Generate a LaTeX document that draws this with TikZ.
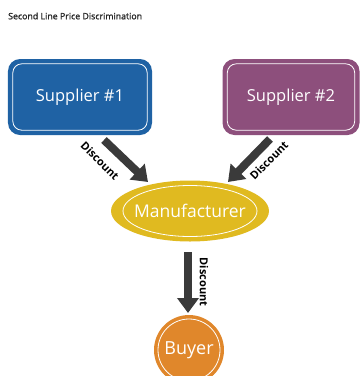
\documentclass[tikz,border=0pt]{standalone}
\usepackage{fontspec}
\setmainfont{Open Sans}
\newfontfamily\titlefont{Open Sans}[FakeBold=1.2]
\usetikzlibrary{arrows.meta,shapes.geometric,calc}
\definecolor{supblue}{HTML}{1F62A4}
\definecolor{suppurple}{HTML}{8D4F7C}
\definecolor{mangold}{HTML}{E0BA20}
\definecolor{buyorange}{HTML}{E0872B}
\definecolor{arrgray}{HTML}{3A3A3A}
\tikzset{
  supbox/.style={rounded corners=12pt, minimum width=144pt, minimum height=76pt, inner sep=0pt, text=white, font=\fontsize{16.5}{18}\selectfont},
  innerline/.style={draw=white, line width=0.8pt},
  bigarrow/.style={draw=arrgray, line width=8pt, -{Triangle[width=21pt,length=15pt]}},
  disc/.style={font=\bfseries\fontsize{11}{13}\selectfont, text=black, inner sep=0pt}
}
\begin{document}
\begin{tikzpicture}[x=1pt,y=-1pt]
\useasboundingbox[fill=white] (0,0) rectangle (360,376);
\node[anchor=west, inner sep=0pt, font=\titlefont\fontsize{8.8}{11}\selectfont, text=black!85] (title) at (8,16) {Second Line Price Discrimination};
% suppliers
\node[supbox, fill=supblue] (s1) at (80,97) {Supplier \#1};
\draw[innerline, rounded corners=9pt] ($(s1.north west)+(5,5)$) rectangle ($(s1.south east)+(-5,-5)$);
\node[supbox, fill=suppurple, minimum width=137pt] (s2) at (291,97) {Supplier \#2};
\draw[innerline, rounded corners=9pt] ($(s2.north west)+(5,5)$) rectangle ($(s2.south east)+(-5,-5)$);
% manufacturer
\node[ellipse, fill=mangold, minimum width=144pt, minimum height=61pt, inner sep=0pt, text=white, font=\fontsize{17.5}{20}\selectfont] (m) at (190,211) {Manufacturer};
\draw[innerline] (m.center) ellipse [x radius=67, y radius=25.5];
% buyer
\node[circle, fill=buyorange, minimum size=70pt, inner sep=0pt, text=white, font=\fontsize{18}{20}\selectfont] (b) at (189,350) {Buyer};
\draw[innerline] (b.center) circle [radius=31];
% arrows
\coordinate (a1s) at (104,140);
\coordinate (a1e) at (148,182);
\coordinate (a2s) at (270,139);
\coordinate (a2e) at (228,182);
\coordinate (a3s) at (188,252);
\coordinate (a3e) at (188,313);
\draw[bigarrow] (a1s) -- (a1e);
\draw[bigarrow] (a2s) -- (a2e);
\draw[bigarrow] (a3s) -- (a3e);
\node[disc, rotate=-45] (d1) at (100,161) {Discount};
\node[disc, rotate=45] (d2) at (269,160) {Discount};
\node[disc, rotate=-90] (d3) at (204,282) {Discount};
\end{tikzpicture}
\end{document}
